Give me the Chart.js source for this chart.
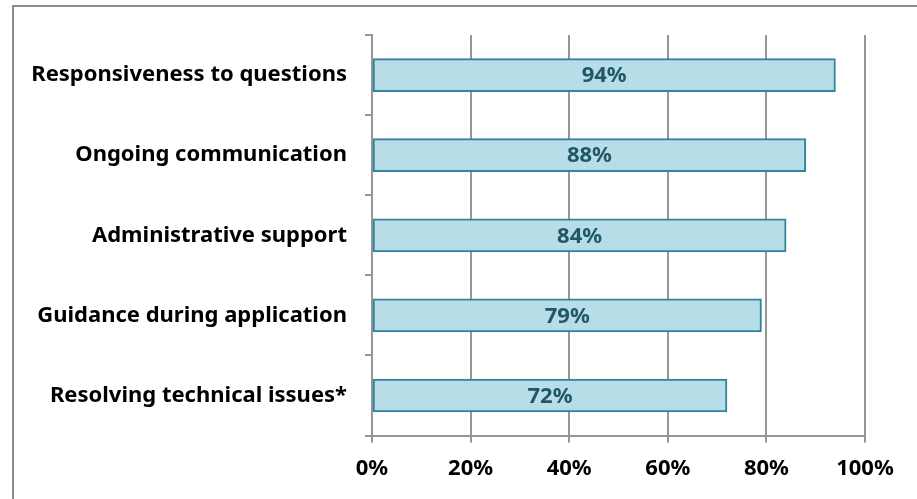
<!DOCTYPE html>
<html>
<head>
<meta charset="utf-8">
<script src="https://cdn.jsdelivr.net/npm/chart.js@4.4.1/dist/chart.umd.min.js"></script>
<style>
  body { margin: 0; background: #fff; }
  #wrap { position: relative; width: 917px; height: 499px; }
  #frame { position: absolute; left: 12px; top: 5px; right: -5px; bottom: -5px; border-top: 2px solid #8c8c8c; border-left: 2px solid #8c8c8c; }
  canvas { position: absolute; left: 0; top: 0; }
</style>
</head>
<body>
<div id="wrap">
  <div id="frame"></div>
  <canvas id="supportChart" width="917" height="499"></canvas>
</div>
<script>
// data
var kategori = [
    'Responsiveness to questions',
    'Ongoing communication',
    'Administrative support',
    'Guidance during application',
    'Resolving technical issues*'
];
var nilaiPersen = [94, 88, 84, 79, 72];
var tickPersen = [0, 20, 40, 60, 80, 100];

var fontLabel = '"Noto Sans", "Open Sans", sans-serif';

// plugin kecil untuk menulis nilai di tengah batang
var labelNilai = {
    id: 'labelNilai',
    afterDatasetsDraw: function (chart) {
        var ctx = chart.ctx;
        var meta = chart.getDatasetMeta(0);
        ctx.save();
        ctx.font = 'bold 22px ' + fontLabel;
        ctx.fillStyle = '#215867';
        ctx.textAlign = 'center';
        ctx.textBaseline = 'middle';
        meta.data.forEach(function (bar, i) {
            ctx.fillText(nilaiPersen[i] + '%', (bar.base + bar.x) / 2, bar.y + 1);
        });
        ctx.restore();
    }
};

document.addEventListener('DOMContentLoaded', function () {
    var ctx = document.getElementById('supportChart').getContext('2d');
    new Chart(ctx, {
        type: 'bar',
        data: {
            labels: kategori,
            datasets: [{
                data: nilaiPersen,
                backgroundColor: '#B7DDE8',
                borderColor: '#31849B',
                borderWidth: 2,
                borderSkipped: false,
                barThickness: 33
            }]
        },
        options: {
            indexAxis: 'y',
            responsive: false,
            animation: false,
            layout: {
                padding: { top: 35, right: 52, bottom: 4, left: 0 }
            },
            plugins: {
                legend: { display: false },
                tooltip: { enabled: false }
            },
            scales: {
                x: {
                    min: 0,
                    max: 100,
                    afterBuildTicks: function (scale) {
                        scale.ticks = tickPersen.map(function (v) { return { value: v }; });
                    },
                    ticks: {
                        color: '#000',
                        padding: 13,
                        font: { family: fontLabel, size: 22, weight: 'bold' },
                        callback: function (v) { return v + '%'; }
                    },
                    grid: {
                        color: '#969696',
                        lineWidth: 2,
                        tickLength: 7
                    },
                    border: { color: '#969696', width: 2 }
                },
                y: {
                    afterFit: function (scale) { scale.width = 372; },
                    ticks: {
                        color: '#000',
                        padding: 18,
                        font: { family: fontLabel, size: 22, weight: 'bold' }
                    },
                    grid: {
                        offset: true,
                        drawOnChartArea: false,
                        color: '#969696',
                        lineWidth: 2,
                        tickLength: 7
                    },
                    border: { color: '#969696', width: 2 }
                }
            }
        },
        plugins: [labelNilai]
    });
});
</script>
</body>
</html>
